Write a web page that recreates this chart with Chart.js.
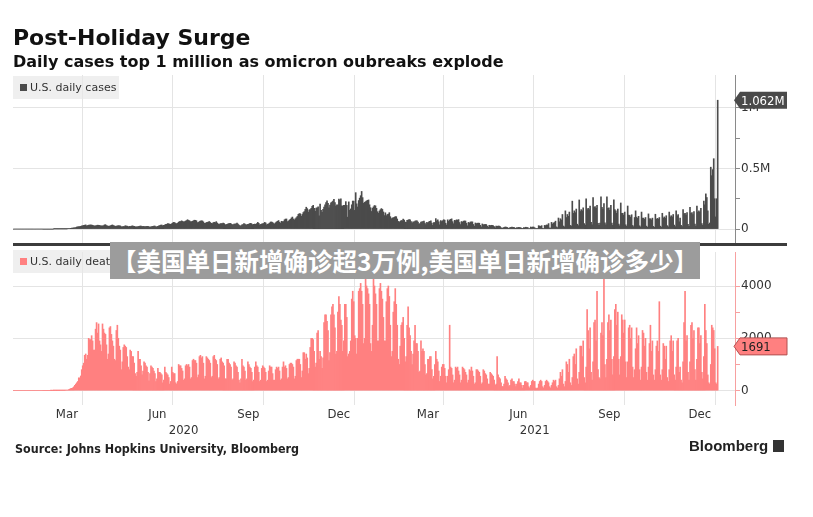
<!DOCTYPE html>
<html><head><meta charset="utf-8">
<script src="https://cdn.jsdelivr.net/npm/chart.js@4.4.1/dist/chart.umd.min.js"></script>
<style>
html,body{margin:0;padding:0;background:#fff;}
body{width:813px;height:517px;position:relative;overflow:hidden;}
canvas{position:absolute;left:0;top:0;}
.abs{position:absolute;white-space:nowrap;}
#title{left:13px;top:25px;font:bold 22px "DejaVu Sans";color:#111;}
#subtitle{left:13px;top:52px;font:bold 16px "DejaVu Sans";color:#111;}
.legend{height:23px;background:rgba(232,232,232,0.7);font:11px "DejaVu Sans";color:#333;line-height:23px;}
.legend i{display:inline-block;width:7px;height:7px;margin:0 3px 0 7px;vertical-align:0px;}
#sep{left:13px;top:243px;width:774px;height:3px;background:#3c3c3c;}
#banner{left:110px;top:242px;width:590px;height:37px;background:#9c9c9c;color:#fff;font:bold 24.5px "Noto Sans CJK SC";line-height:37px;text-align:center;}
#source{left:15px;top:441px;font:bold 12.4px "DejaVu Sans Condensed","DejaVu Sans";color:#222;}
#bbg{left:689px;top:437px;font:bold 15px "Liberation Sans";color:#222;}
#bbg b{display:inline-block;width:11px;height:12px;background:#333;margin-left:5px;vertical-align:-1px;}
</style></head>
<body>
<canvas id="cCases" width="813" height="517"></canvas>
<canvas id="cDeaths" width="813" height="517"></canvas>
<div class="abs" id="title">Post-Holiday Surge</div>
<div class="abs" id="subtitle">Daily cases top 1 million as omicron oubreaks explode</div>
<div class="abs legend" style="left:13px;top:76px;width:106px;"><i style="background:#4b4b4b"></i>U.S. daily cases</div>
<div class="abs" id="sep"></div>
<div class="abs legend" style="left:13px;top:250px;width:111px;"><i style="background:#ff8080"></i>U.S. daily deaths</div>
<div class="abs" id="banner">【美国单日新增确诊超3万例,美国单日新增确诊多少】</div>
<div class="abs" id="source">Source: Johns Hopkins University, Bloomberg</div>
<div class="abs" id="bbg">Bloomberg<b></b></div>
<script>
// ---- data (daily, first day 2020-01-22), rows = weeks Wed..Tue ----
const firstDay = '2020-01-22';
const casesThousands = [
0,0,0,0,0,0,0, 0,0,0,0,0,0,0, 0,0,0,0,0,0,0, 0,0,0,0,0,0,0, 0,0,0,0,0,0,0,
0,0,0,0,0,0,0.1, 0.1,0.1,0.1,0.2,0.2,0.3,0.4, 0.5,0.6,0.8,1,1.2,1.6,2.2,
3,4.5,6,7,8,10,10.5, 12,17,18,19.5,20,22,26, 27,30,32,34,26,29,32,
33,34,33,31,28,25,27, 29,32,31,30,27,26,26, 28,34,36,29,26,23,24,
27,31,34,29,26,22,24, 26,28,27,26,19,19,21, 21,27,25,24,18,22,21,
23,26,24,23,19,19,19, 20,22,25,24,20,22,21, 20,21,23,23,18,17,19,
21,23,25,25,19,18,23, 27,28,32,32,27,31,34, 38,40,45,43,40,39,44,
50,55,53,46,44,49,57, 62,62,68,63,59,61,66, 70,77,71,68,61,61,64,
69,73,72,68,53,55,62, 66,68,67,59,48,47,54, 55,58,62,54,47,45,53,
56,53,61,50,42,38,44, 45,45,49,45,35,36,39, 44,45,48,43,36,34,42,
41,44,49,41,32,26,27, 34,37,46,40,35,34,38, 40,45,48,40,35,39,41,
39,45,55,47,35,38,42, 44,46,55,50,35,40,43, 50,58,58,54,46,42,52,
59,64,70,56,48,64,61, 62,76,82,83,61,66,74, 80,91,99,83,75,85,94,
104,121,127,126,105,120,136, 144,162,180,168,139,158,161, 171,187,196,170,146,172,175,
183,110,205,154,137,163,181, 200,218,232,212,175,197,217, 222,231,245,219,189,199,197,
247,238,249,192,189,196,196, 226,195,98,224,155,166,200, 231,230,154,300,208,182,235,
255,275,310,259,212,220,226, 232,237,240,200,176,145,172, 183,194,191,171,143,131,149,
160,169,162,141,111,134,110, 120,123,135,102,85,91,93, 97,102,102,83,63,55,64,
70,69,82,74,57,56,72, 73,78,77,62,50,59,57, 66,68,68,58,40,46,57,
59,62,65,50,36,56,50, 59,63,68,50,31,54,53, 86,67,76,60,35,70,62,
69,77,73,48,33,76,63, 75,80,84,61,44,72,69, 76,73,78,54,37,62,57,
65,67,66,48,27,55,49, 58,59,59,38,24,50,45, 48,49,48,31,18,42,35,
37,38,37,25,15,31,28, 31,30,28,20,10,25,23, 25,24,20,11,8,7,15,
17,16,15,9,6,13,14, 16,15,14,7,5,12,11, 14,13,11,6,4,13,11,
15,13,12,4,4,17,13, 17,16,10,3,3,5,28, 24,22,28,6,4,30,28,
34,33,45,9,8,55,41, 50,54,65,18,12,91,60, 85,75,120,25,18,150,95,
120,105,140,30,25,230,130, 150,135,165,40,28,240,145, 160,150,175,45,32,250,160,
170,160,190,55,35,260,180, 185,170,195,48,30,50,265, 180,165,210,52,34,265,170,
175,155,195,49,30,240,160, 150,130,165,41,27,215,130, 130,115,140,35,23,190,115,
112,98,118,30,20,95,150, 98,88,105,27,18,140,90, 90,80,95,24,15,125,85,
85,76,90,22,14,122,80, 88,82,95,24,16,130,90, 100,90,110,28,18,140,100,
110,100,120,32,20,150,110, 120,60,90,30,20,160,125, 130,115,135,38,22,180,130,
135,120,145,40,25,190,140, 150,140,170,45,30,230,200, 290,260,150,40,50,510,440,
490,580,250,100,250,1062
];
const deaths = [
0,0,0,0,0,0,0, 0,0,0,0,0,0,0, 0,0,0,0,0,0,0, 0,0,0,0,0,0,0, 0,0,0,0,0,0,0,
0,0,0,1,0,1,1, 3,1,2,3,2,4,6, 8,8,10,10,15,20,25,
35,60,75,90,110,140,200, 250,300,350,490,480,560,800, 950,1050,1350,1400,1200,1350,2000,
1950,1950,2100,1900,1550,1550,2350, 2600,2200,2550,1900,1750,1500,2550, 2350,2200,2150,1750,1200,1400,2400,
2450,2150,1900,1700,1200,1150,2300, 2500,2000,1700,1550,800,1100,1650, 1750,1700,1650,1300,900,800,1550,
1500,1300,1300,1050,650,550,700, 1500,1200,1200,950,600,750,1100, 1050,950,900,700,370,650,950,
900,850,750,650,350,450,850, 700,700,650,600,300,400,900, 700,650,600,500,250,350,900,
700,650,650,300,250,350,1000, 950,950,850,750,400,450,950, 1000,950,1000,900,450,500,1150,
1200,1150,1150,1050,500,600,1300, 1350,1250,1300,1050,450,550,1300, 1250,1200,1150,1050,500,550,1300,
1350,1200,1150,1000,450,500,1200, 1250,1100,1050,950,450,450,1200, 1200,1050,1000,900,400,450,1100,
1050,950,900,700,400,300,450, 1200,950,900,750,400,450,1100, 1000,900,850,700,350,400,900,
1100,950,900,700,350,400,850, 950,900,850,700,350,400,750, 950,900,900,650,400,400,800,
900,850,900,750,400,450,900, 1100,900,950,850,450,500,1000, 1050,1050,1000,900,450,550,1150,
1200,1200,1200,1000,500,750,1450, 1450,1200,1400,1250,650,850,1650, 2000,2000,1950,1500,900,1050,2200,
2300,1200,1500,1300,850,1250,2600, 2900,2900,2650,2300,1150,1450,2900, 3200,3300,2900,2400,1400,1500,3000,
3600,3300,2700,2500,1500,1900,3300, 3300,2800,1300,1400,1500,1900,3500, 3800,3400,2100,2000,1400,2000,3800,
3900,4100,3800,3300,1800,2000,4400, 4000,3900,3700,3300,1800,1500,2500, 4400,4000,3700,3300,1900,1900,3900,
4100,3800,3500,2800,1900,1900,3400, 3900,4000,3600,2500,1300,1500,3000, 3400,3900,3300,2500,1200,1000,1700,
2500,2600,2800,2000,1100,1300,2500, 3200,2400,2100,1500,1000,1400,1900, 2500,1800,1800,1500,700,750,1900,
1500,1600,1500,1000,600,650,1200, 1200,1300,1300,800,450,550,1000, 1500,1200,1100,750,350,550,900,
1000,1000,850,550,300,550,800, 2500,900,850,600,300,400,900, 850,900,750,600,300,400,900,
850,800,700,600,300,400,800, 750,900,750,550,250,300,800, 800,750,700,550,250,300,800,
750,650,600,450,250,250,700, 650,600,550,400,200,250,1300, 600,500,450,300,150,150,250,
550,450,400,300,150,200,400, 450,350,350,250,150,250,350, 450,300,300,200,100,200,350,
350,300,300,150,100,200,350, 400,350,350,100,80,100,250, 350,400,350,150,100,200,350,
400,350,300,150,100,200,300, 400,350,400,150,100,200,450, 700,550,800,250,150,350,1100,
1000,700,1200,300,200,500,1300, 1400,1000,1600,450,250,700,1700, 1700,1300,1900,500,300,900,3100,
2300,1600,2400,700,400,1100,2600, 2700,1900,3800,800,500,450,2200, 2600,2100,4700,1000,500,1200,2600,
2900,2300,2700,1200,600,1300,3100, 3300,2500,3000,1200,600,1300,2900, 2700,2200,2700,1100,500,1100,2400,
2500,2000,2400,900,500,800,1600, 2400,1800,2100,800,400,900,2300, 2200,1700,2000,700,400,900,1800,
2500,1500,1900,600,400,800,1700, 1900,1500,3400,600,400,800,1800, 1700,1200,1700,500,350,800,1900,
2100,1500,1900,600,400,900,1900, 2000,700,900,400,300,1100,2600, 3800,1900,2100,700,400,1100,2500,
2600,2000,2300,800,400,1200,2400, 2400,1800,2100,700,450,1300,3300, 2300,1800,600,300,250,1000,2500,
2400,2300,1600,300,250,1691
];
// axis ticks and labels
const gridDates = ['2020-04-01','2020-07-01','2020-10-01','2021-01-01','2021-04-01','2021-07-01','2021-10-01','2022-01-01'];
const monthLabels = ['Mar','Jun','Sep','Dec','Mar','Jun','Sep','Dec'];
const monthLabelStarts = ['2020-03-01','2020-06-01','2020-09-01','2020-12-01','2021-03-01','2021-06-01','2021-09-01','2021-12-01'];
const yearLabels = ['2020','2021'];
const caseTicks = [0,250000,500000,750000,1000000];
const caseTickLabels = ['0','','0.5M','','1M'];
const deathTicks = [0,1000,2000,3000,4000];
const deathTickLabels = ['0','','2000','','4000'];

// ---- helpers ----
const utc = s => { const [y,m,d] = s.split('-').map(Number); return Date.UTC(y,m-1,d||1); };
const dayIdx = s => Math.round((utc(s) - utc(firstDay)) / 864e5);
const nextMonth = s => { const [y,m] = s.split('-').map(Number); return m===12 ? `${y+1}-01-01` : `${y}-${String(m+1).padStart(2,'0')}-01`; };
const N = casesThousands.length;
const xMin = -0.5, xMax = N - 1 + 17.5;
const gridPos = gridDates.map(d => dayIdx(d) - 0.5);
const monthPos = monthLabelStarts.map(d => (dayIdx(d) + dayIdx(nextMonth(d))) / 2 - 0.5);
const yearPos = yearLabels.map(y => {
  const a = Math.max(xMin, dayIdx(`${y}-01-01`) - 0.5);
  const b = Math.min(N - 0.5, dayIdx(`${+y+1}-01-01`) - 0.5);
  return (a + b) / 2;
});

const CASES_COLOR = '#4b4b4b', DEATH_COLOR = '#ff8080';
const GRID = '#e4e4e4';

function calloutPlugin(value, text, fill, stroke, textColor){
  return { id:'callout', afterDraw(chart){
    const {ctx, chartArea} = chart;
    const y = chart.scales.y.getPixelForValue(value);
    const x0 = chartArea.right - 1, h = 17, w = 53, tip = 6;
    ctx.save();
    ctx.beginPath();
    ctx.moveTo(x0, y); ctx.lineTo(x0+tip, y-h/2); ctx.lineTo(x0+w, y-h/2);
    ctx.lineTo(x0+w, y+h/2); ctx.lineTo(x0+tip, y+h/2); ctx.closePath();
    ctx.fillStyle = fill; ctx.fill();
    if (stroke){ ctx.strokeStyle = stroke; ctx.lineWidth = 1; ctx.stroke(); }
    ctx.fillStyle = textColor; ctx.font = '13px "DejaVu Sans Condensed", "DejaVu Sans"';
    ctx.textBaseline = 'middle'; ctx.textAlign = 'left';
    ctx.fillText(text, x0+tip+1, y+1);
    ctx.restore();
  }};
}

function baseX(extra){
  return Object.assign({ type:'linear', min:xMin, max:xMax, position:'bottom', offset:false }, extra);
}
function gridAxis(){
  return baseX({ weight:0,
    afterBuildTicks: s => { s.ticks = gridPos.map(v => ({value:v})); },
    afterFit: s => { s.height = 0; },
    ticks:{display:false}, grid:{color:GRID, drawTicks:false, offset:false}, border:{display:false} });
}
function labelAxis(pos, labels, weight, height, padding){
  return baseX({ weight,
    afterBuildTicks: s => { s.ticks = pos.map(v => ({value:v})); },
    afterFit: s => { s.height = height; },
    ticks:{ callback:(v,i) => labels[i], autoSkip:false, maxRotation:0, padding, color:'#333', font:{family:'DejaVu Sans Condensed', size:13} },
    grid:{display:false, drawTicks:false, offset:false}, border:{display:false} });
}
function yAxis(ticks, labels, min, max, axisColor){
  return { type:'linear', position:'right', min, max,
    afterBuildTicks: s => { s.ticks = ticks.map(v => ({value:v})); },
    afterFit: s => { s.width = 78; },
    ticks:{ callback:(v,i) => labels[i], color:'#333', font:{family:'DejaVu Sans', size:12}, padding:1, autoSkip:false },
    grid:{ color: c => labels[c.index] ? GRID : 'rgba(0,0,0,0)', tickColor: axisColor, tickLength:5 },
    border:{ display:true, color:axisColor, width:1 } };
}
const commonDs = { barPercentage:1, categoryPercentage:1, borderWidth:0 };

new Chart(document.getElementById('cCases'), {
  type:'bar',
  data:{ datasets:[{ ...commonDs, data: casesThousands.map((v,i)=>({x:i, y:v*1000})), backgroundColor:CASES_COLOR }]},
  options:{ responsive:false, animation:false, events:[],
    layout:{ padding:{ left:13, top:75, right:0, bottom:274 } },
    plugins:{ legend:{display:false}, tooltip:{enabled:false} },
    scales:{ x: gridAxis(), y: yAxis(caseTicks, caseTickLabels, -115000, 1270000, '#8a8a8a') } },
  plugins:[ calloutPlugin(casesThousands[N-1]*1000, (casesThousands[N-1]/1000).toFixed(3)+'M', '#4a4a4a', null, '#fff') ]
});

new Chart(document.getElementById('cDeaths'), {
  type:'bar',
  data:{ datasets:[{ ...commonDs, data: deaths.map((v,i)=>({x:i, y:v})), backgroundColor:DEATH_COLOR }]},
  options:{ responsive:false, animation:false, events:[],
    layout:{ padding:{ left:13, top:252, right:0, bottom:76 } },
    plugins:{ legend:{display:false}, tooltip:{enabled:false} },
    scales:{
      x: gridAxis(),
      xm: labelAxis(monthPos, monthLabels, 1, 18, 2),
      xy: labelAxis(yearPos, yearLabels, 2, 18, 0),
      y: yAxis(deathTicks, deathTickLabels, -550, 5300, '#f7a0a0') } },
  plugins:[ calloutPlugin(deaths[N-1], String(deaths[N-1]), '#ff8080', '#b05050', '#222') ]
});
</script>
</body></html>
